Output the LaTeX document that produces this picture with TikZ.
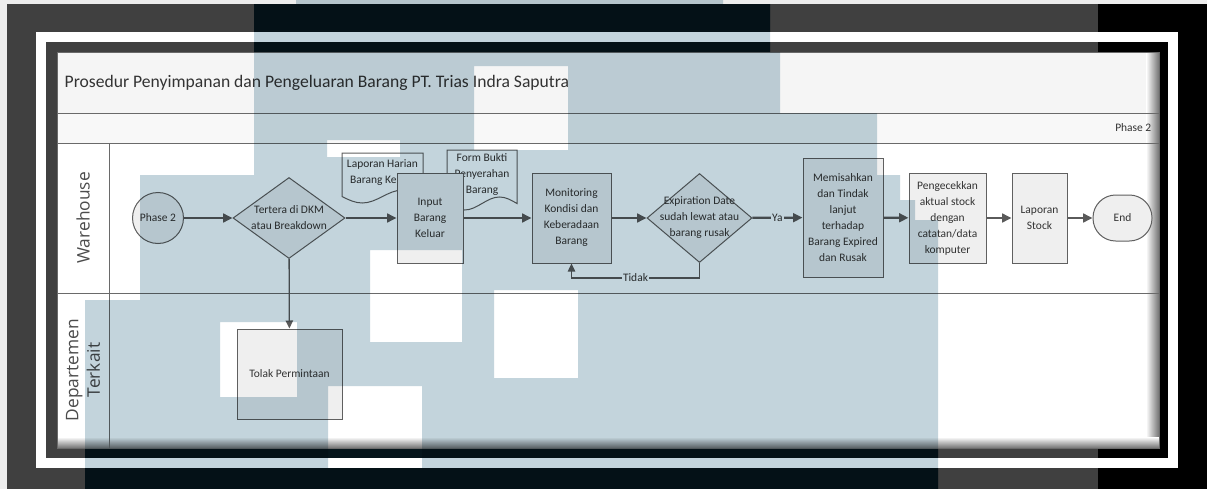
\documentclass[tikz,border=0pt]{standalone}
\usepackage{fontspec}
\setmainfont{Carlito}
\newfontfamily\lanefont{Open Sans}
\usetikzlibrary{shapes.geometric,arrows.meta}

\definecolor{margin}{HTML}{EDEDED}
\definecolor{framegray}{HTML}{404040}
\definecolor{wmblue}{HTML}{C3D4DC}
\definecolor{wmdark}{HTML}{06151B}
\definecolor{poolline}{HTML}{6A6A6A}
\definecolor{titlefill}{HTML}{F5F5F5}
\definecolor{phasefill}{HTML}{F8F8F8}
\definecolor{linegray}{HTML}{5A5A5A}
\definecolor{boxline}{HTML}{606060}
\definecolor{boxfill}{HTML}{EFEFEF}
\definecolor{txtgray}{HTML}{333333}

\newcommand{\nodefont}{\fontsize{8.6}{12}\selectfont}
% outline of the watermark, in pixels
\newcommand{\wmshape}{(296,0) -- (723,0) -- (723,4) -- (770,4) -- (770,52) -- (780,52)
  -- (780,113) -- (877,113) -- (877,175) -- (900,175) -- (900,200) -- (915,200)
  -- (915,220) -- (938,220) -- (938,489) -- (85,489) -- (85,300) -- (140,300)
  -- (140,175) -- (254,175) -- (254,4) -- (296,4) -- cycle}

\tikzset{
  box/.style={rectangle, draw=boxline, line width=0.75pt, fill=boxfill,
    align=center, inner sep=1pt, font=\nodefont, text=txtgray},
  decision/.style={diamond, draw=boxline, line width=0.75pt, fill=boxfill,
    align=center, inner sep=-5pt, aspect=1.2, font=\nodefont, text=txtgray},
  terminal/.style={draw=boxline, line width=0.75pt, fill=boxfill,
    align=center, inner sep=0pt, font=\nodefont, text=txtgray},
  docline/.style={draw=boxline, line width=0.75pt, fill=white},
  doctext/.style={align=center, inner sep=0pt, font=\nodefont, text=txtgray},
  flow/.style={draw=linegray, line width=1.75pt, -{Triangle[length=7pt,width=6.5pt]}},
  thinflow/.style={draw=linegray, line width=1pt, -{Triangle[length=6pt,width=5.5pt]}},
  flowlabel/.style={fill=white, inner sep=1pt, font=\nodefont, text=txtgray},
  pool/.style={draw=poolline, line width=0.75pt},
  lanetext/.style={font=\lanefont\fontsize{13}{16}\selectfont, text=black!70, align=center},
}

\begin{document}
\begin{tikzpicture}[x=0.75pt,y=-0.75pt]
\useasboundingbox (0,0) rectangle (1207,489);

% frame round the picture
\fill[margin] (0,0) rectangle (1207,489);
\fill[framegray] (7,4) rectangle (1207,489);
\fill[black] (1098,4) rectangle (1207,489);
\begin{scope}
  \clip (7,4) rectangle (1207,489);
  \fill[wmdark] \wmshape;
\end{scope}
\draw[white, line width=7.5pt] (40.5,37) rectangle (1173,463);

% pool and lanes
\fill[white] (57,52) rectangle (1159,448);
\fill[titlefill] (57,52) rectangle (1159,113);
\fill[phasefill] (57,113) rectangle (1159,143);
\shade[left color=white, right color=black!55] (1146,52) rectangle (1159,448);
\shade[top color=white, bottom color=black!55] (57,437) rectangle (1159,448);
\draw[pool] (57,52) rectangle (1159,448);
\draw[pool] (57,113) -- (1159,113);
\draw[pool] (57,143) -- (1159,143);
\draw[pool] (57,293) -- (1159,293);
\draw[pool] (109,143) -- (109,448);

\node[anchor=west, font=\fontsize{13.2}{15}\selectfont, text=black!80] (judul) at (60,83)
  {Prosedur Penyimpanan dan Pengeluaran Barang PT. Trias Indra Saputra};
\node[anchor=east, font=\nodefont, text=txtgray] (fase) at (1156,128) {Phase 2};
\node[lanetext, rotate=90] (lanewh) at (83,218) {Warehouse};
\node[lanetext, rotate=90] (lanedept) at (83,370) {Departemen\\Terkait};

% documents
\filldraw[docline] (342,153) -- (423,153) -- (423,196.5) sin (402.75,190) cos (382.5,196.5)
  sin (362.25,203) cos (342,196.5) -- cycle;
\node[doctext] (lapharian) at (382.5,173) {Laporan Harian\\Barang Keluar};
\filldraw[docline] (447,150) -- (517,150) -- (517,203.5) sin (499.5,197) cos (482,203.5)
  sin (464.5,210) cos (447,203.5) -- cycle;
\node[doctext] (formbukti) at (482,175) {Form Bukti\\Penyerahan\\Barang};

% steps
\node[terminal, ellipse, minimum width=33pt, minimum height=38.25pt] (ph2) at (158,218) {Phase 2};
\node[decision, minimum width=84pt, minimum height=60.75pt] (tertera) at (289,218)
  {Tertera di DKM\\atau Breakdown};
\node[box, minimum width=49.5pt, minimum height=67.5pt] (input) at (430,218)
  {Input\\Barang\\Keluar};
\node[box, minimum width=59.25pt, minimum height=67.5pt] (monitor) at (571.5,218)
  {Monitoring\\Kondisi dan\\Keberadaan\\Barang};
\node[decision, minimum width=78.75pt, minimum height=66.75pt] (expdate) at (699.5,218)
  {Expiration Date\\sudah lewat atau\\barang rusak};
\node[box, minimum width=60pt, minimum height=89.25pt] (pisah) at (843,217.5)
  {Memisahkan\\dan Tindak\\lanjut\\terhadap\\Barang Expired\\dan Rusak};
\node[box, minimum width=57.75pt, minimum height=67.5pt] (cek) at (947.5,218)
  {Pengecekkan\\aktual stock\\dengan\\catatan/data\\komputer};
\node[box, minimum width=41.25pt, minimum height=67.5pt] (lapstock) at (1039.5,218)
  {Laporan\\Stock};
\node[terminal, rectangle, rounded corners=17pt, minimum width=44.25pt, minimum height=34.5pt]
  (end) at (1122.5,218) {End};
\node[box, minimum width=78.75pt, minimum height=67.5pt] (tolak) at (289.5,374)
  {Tolak Permintaan};

% connectors
\draw[flow] (ph2) -- (tertera);
\draw[flow] (tertera) -- (input);
\draw[flow] (input) -- (monitor);
\draw[flow] (monitor) -- (expdate);
\draw[flow] (expdate) -- node[flowlabel] {Ya} (pisah);
\draw[flow] (pisah) -- (cek);
\draw[flow] (cek) -- (lapstock);
\draw[flow] (lapstock) -- (end);
\draw[thinflow] (tertera) -- (tolak);
\draw[thinflow] (expdate.south) -- ++(0,15) -| node[flowlabel, pos=0.25] {Tidak} (monitor.south);

% watermark laid over everything
\begin{scope}[blend mode=multiply]
  \fill[wmblue, even odd rule] \wmshape
    (474,66) rectangle (568,150) (327,140) rectangle (400,157)
    (370,250) rectangle (462,342) (494,290) rectangle (578,378)
    (220,322) rectangle (297,397) (328,386) rectangle (422,468);
\end{scope}

\end{tikzpicture}
\end{document}
